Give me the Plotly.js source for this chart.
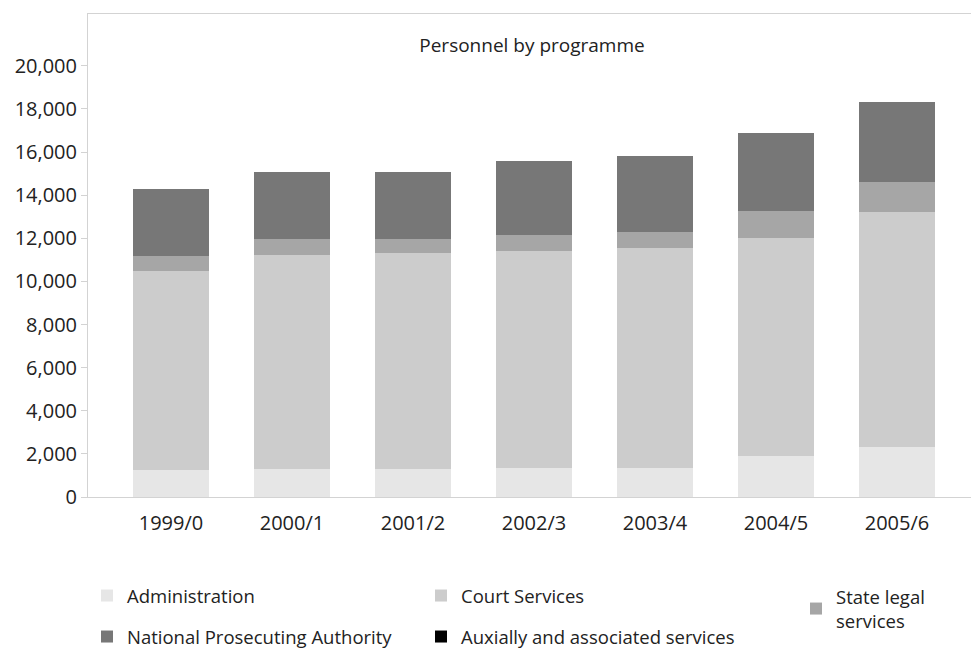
<!DOCTYPE html>
<html>
<head>
<meta charset="utf-8">
<script src="https://cdn.plot.ly/plotly-3.0.1.min.js"></script>
<style>html,body{margin:0;padding:0;background:#fff;}#chart{width:971px;height:653px;}</style>
</head>
<body>
<div id="chart"></div>
<script>
const categories = ['1999/0','2000/1','2001/2','2002/3','2003/4','2004/5','2005/6'];
const administration = [1265, 1310, 1310, 1360, 1360, 1910, 2330];
const courtServices = [9225, 9920, 10010, 10050, 10190, 10110, 10890];
const stateLegal = [690, 740, 650, 740, 740, 1250, 1390];
const npa = [3110, 3100, 3100, 3430, 3530, 3610, 3710];
const auxiliary = [0, 0, 0, 0, 0, 0, 0];
const yTicks = [0, 2000, 4000, 6000, 8000, 10000, 12000, 14000, 16000, 18000, 20000];

const FONT = 'Open Sans, sans-serif';
const W = 971, H = 653;
function cx(px){return px/W;}
function cy(py){return 1 - py/H;}

const series = [
  {name:'Administration', y:administration, color:'#e6e6e6', legend:'legend', lx:87, ly:577},
  {name:'Court Services', y:courtServices, color:'#cccccc', legend:'legend2', lx:421, ly:577},
  {name:'State legal<br>services', y:stateLegal, color:'#a6a6a6', legend:'legend3', lx:796, ly:578},
  {name:'National Prosecuting Authority', y:npa, color:'#777777', legend:'legend4', lx:87, ly:618},
  {name:'Auxially and associated services', y:auxiliary, color:'#000000', legend:'legend5', lx:421, ly:618}
];

const traces = series.map(s => ({
  type:'bar', x:categories, y:s.y, name:s.name,
  marker:{color:s.color, line:{width:0}},
  legend:s.legend, hoverinfo:'x+y+name'
}));

const layout = {
  width:W, height:H,
  margin:{l:88, r:0, t:14, b:156, autoexpand:false},
  paper_bgcolor:'#ffffff', plot_bgcolor:'#ffffff',
  barmode:'stack', bargap:0.372,
  font:{family:FONT, size:19, color:'#222222'},
  title:{text:'Personnel by programme', xref:'paper', x:(532-88)/883, xanchor:'center', yref:'container', y:1-45/H, yanchor:'middle', font:{family:FONT, size:19, color:'#222222'}},
  xaxis:{type:'category', range:[-0.686, 6.612], showline:true, mirror:true, linecolor:'#d3d3d3', linewidth:1,
         ticks:'', showgrid:false, zeroline:false, tickangle:0, automargin:false, ticklabelstandoff:8,
         tickfont:{family:FONT, size:20, color:'#222222'}, fixedrange:true},
  yaxis:{range:[0, 22400], tickvals:yTicks, tickformat:',d', showline:true, linecolor:'#d3d3d3', linewidth:1,
         ticks:'outside', ticklen:6, tickcolor:'#d3d3d3', showgrid:false, zeroline:false, automargin:false,
         tickfont:{family:FONT, size:20, color:'#222222'}, fixedrange:true},
  showlegend:true
};
series.forEach(s => {
  layout[s.legend] = {xref:'container', yref:'container', x:cx(s.lx), y:cy(s.ly), xanchor:'left', yanchor:'top',
    bgcolor:'rgba(0,0,0,0)', font:{family:FONT, size:18.5, color:'#222222'}};
});

Plotly.newPlot('chart', traces, layout, {displayModeBar:false, staticPlot:true});
</script>
</body>
</html>
